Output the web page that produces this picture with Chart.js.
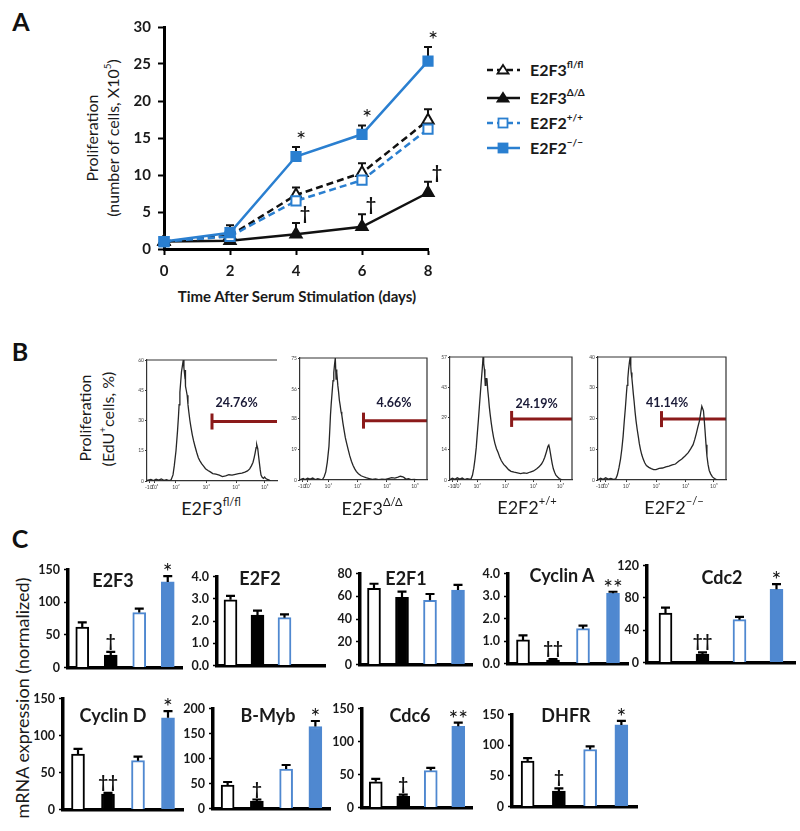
<!DOCTYPE html>
<html>
<head>
<meta charset="utf-8">
<title>E2F3 / E2F2 proliferation figure</title>
<script src="https://cdn.jsdelivr.net/npm/chart.js@4.4.1/dist/chart.umd.min.js"></script>
<style>
  body { margin: 0; width: 800px; height: 831px; position: relative; background: #fff;
         font-family: Lato, "Open Sans", sans-serif; color: #1a1a1a; overflow: hidden; }
  canvas { position: absolute; }
  .t { position: absolute; white-space: nowrap; transform: translate(-50%, -50%); line-height: 1; }
  .v { transform: translate(-50%, -50%) rotate(-90deg); }
  .panel { font-size: 25px; font-weight: bold; color: #111; }
  sup { font-size: 0.62em; line-height: 0; position: relative; top: -0.2em; vertical-align: super; }
  .leg { position: absolute; left: 486px; display: flex; align-items: center; transform: translateY(-50%);
         font-weight: bold; font-size: 16px; }
  .leg svg { margin-right: 9px; }
  .ctitle { font-size: 18px; font-weight: bold; }
  .hlab { font-size: 18px; }
</style>
</head>
<body>
<div class="t panel" style="left:21px;top:21px">A</div>
<div class="t panel" style="left:20px;top:351px">B</div>
<div class="t panel" style="left:20px;top:538px">C</div>

<div class="t v" style="left:92px;top:138px;font-size:16px">Proliferation</div>
<div class="t v" style="left:113px;top:138px;font-size:16px">(number of cells, X10<sup>5</sup>)</div>
<div class="t" style="left:297px;top:296px;font-size:15px;font-weight:bold">Time After Serum Stimulation (days)</div>

<div class="t v" style="left:85px;top:418px;font-size:16px">Proliferation</div>
<div class="t v" style="left:108px;top:419px;font-size:16px">(EdU<sup>+</sup>cells, %)</div>

<div class="t v" style="left:22px;top:698px;font-size:18px">mRNA expression (normalized)</div>

<script>
// ---- panel A: cell counts (x10^5) after serum stimulation ----
const days = [0, 2, 4, 6, 8];
const flflCells = [1.0, 1.8, 7.3, 10.3, 17.4];
const flflCellsErr = [0.2, 1.0, 1.0, 1.3, 1.5];
const ddCells = [1.0, 1.1, 2.0, 3.0, 7.6];
const ddCellsErr = [0.1, 0.3, 1.5, 1.7, 1.5];
const wtCells = [1.0, 1.7, 6.5, 9.3, 16.2];
const wtCellsErr = [0.1, 0.6, 0.6, 0.8, 0.9];
const koCells = [1.0, 2.2, 12.5, 15.5, 25.4];
const koCellsErr = [0.2, 1.0, 1.3, 1.2, 1.9];
const ddCellsMarks = ['', '', '†', '†', '†'];
const koCellsMarks = ['', '', '*', '*', '*'];

const genotypes = ['E2F3', 'E2F3', 'E2F2', 'E2F2'];
const alleles = ['fl/fl', 'Δ/Δ', '+/+', '−/−'];

// ---- panel B: EdU histograms, x = % of axis width, y = cell count ----
const histFlfl = [[0,0.3],[3,0.8],[5,0.2],[7,0.9],[9,0.4],[11,1.0],[13,0.3],[15,0.6],[17,0.2],[18.5,0.5],[20,3],[21,7.6],[22.3,15],[23.5,25],[24.2,32],[24.7,37.8],[25.3,44],[25.9,49],[26.5,54],[27.2,57],[27.9,60],[28.4,56],[28.9,53],[29.3,55],[29.6,47],[30.2,45],[30.9,42.5],[31.5,38],[32.1,34.6],[33,30],[33.8,26.7],[34.8,23],[35.8,20],[37,17],[38.3,14],[39.5,11.5],[40.7,10],[42,8.6],[43.2,7.6],[45,6.1],[46.9,5.2],[48.7,4.5],[50.6,3.7],[53,3.4],[55.6,2.9],[58,2.2],[60.5,2.5],[63,3.1],[65.4,2.9],[68,3.3],[70.4,3.7],[73,3.9],[75.3,4.4],[77.3,5.0],[79,6.0],[80.3,7.5],[81.5,9.2],[82.4,11.5],[83.2,14],[83.9,16.5],[84.4,18],[85.2,16],[85.8,12.5],[86.4,9.2],[87.1,5.5],[87.7,2.9],[88.6,1.8],[89.6,1.3],[90.5,2.0],[91.4,1.2],[92.6,0.8],[94,0.4],[95,0.1]];
const histDd = [[0,0.2],[2.5,0.9],[4,0.3],[6,1.1],[8,0.5],[10,1.2],[12,0.3],[14,0.8],[16.5,0.2],[17.7,0.3],[19,2],[20.3,5],[21.5,11],[22.8,20.7],[23.4,30],[24,40],[24.6,47],[25.3,54],[26,61],[26.6,66],[27.2,71],[27.8,75],[28.4,62],[28.8,68],[29.1,66],[29.8,58],[30.4,54],[31,49],[31.6,46],[32.3,42],[32.9,40],[33.8,35],[34.7,30.6],[35.7,26],[36.7,22.7],[38,18.5],[39.2,14.8],[40.5,11.5],[41.8,8.9],[43,7],[44.3,5.3],[46,3.9],[48.1,2.6],[50,2.0],[51.9,1.4],[54.5,0.9],[57,0.4],[59.5,0.6],[62,0.2],[64.5,0.5],[67.1,0.4],[69.5,0.9],[72.2,1.4],[74.7,1.2],[77.2,1.8],[79,2.3],[81,2.0],[82.3,1.3],[83.5,0.5],[85.5,0.8],[87.3,0.2],[90,0.3],[92.4,0]];
const histWt = [[0,0.2],[2,0.8],[4,0.3],[6,1.0],[8,0.4],[10,0.9],[12,0.2],[14,0.6],[17.1,0.3],[18.4,2.2],[19.5,5.5],[20.5,9.7],[21.5,15],[22.4,21.6],[23.3,28],[24.2,35],[25,41],[25.8,46.9],[26.5,52],[27.1,57],[27.6,54],[28.2,51.3],[28.6,47],[28.9,43.9],[29.4,47],[30.3,46.9],[30.9,42],[31.6,38],[32.2,34],[32.9,30.5],[33.8,26.5],[34.7,23],[35.7,19.8],[36.8,17],[38.1,14.5],[39.5,12.6],[40.8,10.5],[42.1,8.9],[44,7.2],[46.1,6],[48,4.8],[50,4],[52.6,3.6],[55.3,3.3],[57.9,3.0],[60.5,3.3],[63,3.1],[65.8,3.7],[68.5,4.2],[71.1,5.2],[73,6.1],[75,7.4],[76.4,8.8],[77.6,10.4],[79,13],[80.3,15.6],[81,16.2],[81.6,14.8],[82.3,12.5],[82.9,10.4],[83.8,7.5],[84.7,5.2],[85.8,3.5],[86.8,2.2],[88.2,1.4],[89.5,0.7],[92.1,0]];
const histKo = [[0,0.1],[2,0.6],[4,0.2],[6,0.7],[8,0.3],[10,0.5],[12,0.2],[13.9,0.4],[15.1,1.6],[16.4,4],[17.6,6.8],[18.6,10],[19.6,14.1],[20.5,19],[21.4,23.5],[22.1,27.5],[22.7,30.8],[23.3,33],[23.9,36],[24.6,38.5],[25.2,40],[25.6,37],[25.9,35],[26.5,33],[27,30.8],[27.6,28],[28.2,25.6],[29,22],[29.7,19.3],[30.6,16.5],[31.5,14.1],[32.3,11.8],[33.2,9.9],[34.2,8.2],[35.3,6.8],[36.5,5.6],[37.8,4.7],[39.7,4.1],[41.6,3.7],[43.5,3.4],[45.3,3.4],[47.8,3.8],[50.4,3.9],[53,4.3],[55.4,4.5],[58,4.9],[60.5,5.2],[63,6.1],[65.5,6.8],[68,7.8],[70.5,8.9],[72.5,10.2],[74.3,11.5],[75.6,13.2],[76.8,15.1],[78,17.2],[79.3,19.3],[80.3,22],[81.1,24],[81.8,23.2],[82.4,22.5],[83,19.5],[83.6,16.2],[84.4,11.5],[85.1,7.8],[86,5],[86.9,3.1],[88,2.0],[89.4,1],[91,0.5],[93.2,0]];
const histYTicks = [[0, 15, 30, 45, 60], [0, 19, 38, 56, 75], [0, 14, 29, 43, 57], [0, 10, 20, 30, 40]];
const histXTickPos = [2, 6, 22.3, 45.5, 68.5, 90.5];
const histXTickText = ['-10¹', '10¹', '10²', '10³', '10⁴', '10⁵'];
const gatePct = ['24.76%', '4.66%', '24.19%', '41.14%'];
const gateStart = [50, 50, 50.5, 49.6];
const gateLevel = [29.5, 36.5, 28.3, 19.8];
const gateTextX = [69, 74, 71, 54];
const gateTextY = [38.6, 47.3, 35.3, 25];

// ---- panel C: mRNA expression (normalized) ----
const genes = ['E2F3', 'E2F2', 'E2F1', 'Cyclin A', 'Cdc2', 'Cyclin D', 'B-Myb', 'Cdc6', 'DHFR'];
const flflExpr = [62, 2.95, 67, 1.05, 61, 75, 47, 39, 74];
const flflErr = [7, 0.18, 4, 0.2, 7, 7, 6, 4.5, 5];
const ddExpr = [19, 2.27, 59, 0.15, 10.5, 21, 15, 17, 25];
const ddErr = [5, 0.2, 5, 0.05, 2, 1.5, 3, 2.5, 4.5];
const wtExpr = [84, 2.15, 56.5, 1.55, 53, 66, 79, 56, 93];
const wtErr = [6, 0.15, 5.5, 0.13, 3.5, 5.5, 8, 4, 5];
const koExpr = [131, null, 65.5, 3.12, 90.5, 124, 164, 123, 133];
const koErr = [9, null, 4.5, 0.07, 6.5, 9, 11, 5.5, 6.5];
const ddMarks = ['†', '', '', '††', '††', '††', '†', '†', '†'];
const koMarks = ['*', '', '', '**', '*', '*', '*', '**', '*'];
const yMaxC = [150, 4, 80, 4, 120, 150, 200, 150, 150];
const yStepC = [50, 1, 20, 1, 20, 50, 50, 50, 50];

// layout (page pixels) of each plot area: [left, top, right, bottom]
const areaA = [164, 23, 428, 249];
const histAreas = [[147, 355, 282, 481], [300, 353, 432, 480], [450, 352, 577, 480], [598, 352, 731, 480]];
const histLabelPos = [[211, 508], [372, 508], [527, 507], [674, 507]];
const barAreas = [[68, 568, 182, 675], [217, 575, 325, 673], [360, 572, 472, 672], [508, 572, 628, 671], [647, 564, 795, 670],
                  [63, 697, 183, 817], [213, 707, 330, 816], [362, 707, 472, 815], [512, 713, 637, 814]];
const titlePos = [[113, 580], [260, 578], [406, 578], [562, 575], [722, 577], [113, 715], [268, 715], [410, 715], [566, 715]];

const FONT = 'Lato, "Open Sans", sans-serif';
const blueA = '#2a7fd0';
const blueC = '#4f88d0';

Chart.defaults.font.family = FONT;
Chart.defaults.color = '#1a1a1a';
Chart.defaults.animation = false;
Chart.defaults.responsive = false;
Chart.defaults.devicePixelRatio = 1;
Chart.defaults.plugins.legend.display = false;
Chart.defaults.plugins.tooltip.enabled = false;

function text(html, x, y, cls) {
  const d = document.createElement('div');
  d.className = 't ' + (cls || '');
  d.style.left = x + 'px';
  d.style.top = y + 'px';
  d.innerHTML = html;
  document.body.appendChild(d);
  return d;
}

// make a canvas so that the chart area lands on `area`
function place(area, m, config) {
  const [x0, y0, x1, y1] = area;
  const c = document.createElement('canvas');
  c.width = x1 - x0 + m.l + m.r;
  c.height = y1 - y0 + m.t + m.b;
  c.style.left = (x0 - m.l) + 'px';
  c.style.top = (y0 - m.t) + 'px';
  document.body.appendChild(c);
  const o = config.options;
  o.layout = { padding: { left: 0, top: m.t, right: m.r, bottom: 0 } };
  o.scales.x.afterFit = s => { s.height = m.b; };
  o.scales.y.afterFit = s => { s.width = m.l; };
  return new Chart(c, config);
}

// ---------- panel A ----------
const lineSets = [
  { vals: flflCells, err: flflCellsErr, color: '#111', dash: [7, 4], shape: 'triangle', fill: '#fff', marks: null, order: 3 },
  { vals: ddCells, err: ddCellsErr, color: '#111', dash: [], shape: 'triangle', fill: '#111', marks: ddCellsMarks, order: 2 },
  { vals: wtCells, err: wtCellsErr, color: blueA, dash: [7, 4], shape: 'rect', fill: '#fff', marks: null, order: 1 },
  { vals: koCells, err: koCellsErr, color: blueA, dash: [], shape: 'rect', fill: blueA, marks: koCellsMarks, order: 0 }
];

const errorLines = {
  id: 'errorLines',
  beforeDatasetsDraw(chart) {
    const { ctx, scales: { x, y } } = chart;
    ctx.save();
    ctx.strokeStyle = '#111';
    ctx.lineWidth = 2;
    chart.data.datasets.forEach(ds => {
      ds.data.forEach((p, i) => {
        const px = x.getPixelForValue(p.x);
        const y0 = y.getPixelForValue(p.y);
        const y1 = y.getPixelForValue(p.y + ds.err[i]);
        ctx.beginPath();
        ctx.moveTo(px, y0); ctx.lineTo(px, y1);
        ctx.moveTo(px - 4, y1); ctx.lineTo(px + 4, y1);
        ctx.stroke();
      });
    });
    ctx.restore();
  },
  afterDatasetsDraw(chart) {
    const { ctx, scales: { x, y } } = chart;
    ctx.save();
    ctx.fillStyle = '#111';
    ctx.textAlign = 'center';
    chart.data.datasets.forEach(ds => {
      if (!ds.marks) return;
      ds.data.forEach((p, i) => {
        const m = ds.marks[i];
        if (!m) return;
        const px = x.getPixelForValue(p.x);
        const top = y.getPixelForValue(p.y + ds.err[i]);
        if (m === '*') {
          ctx.font = '24px ' + FONT;
          ctx.fillText(m, px + 5, top + 1);
        } else {
          ctx.font = 'bold 18px ' + FONT;
          ctx.fillText(m, px + 9, top - 3);
        }
      });
    });
    ctx.restore();
  }
};

const axisA = (max, step) => ({
  type: 'linear', min: 0, max, ticks: { stepSize: step, font: { size: 15, weight: 'bold' }, color: '#1a1a1a', padding: 7 },
  grid: { drawOnChartArea: false, tickLength: 6, tickColor: '#000', tickWidth: 2 },
  border: { color: '#000', width: 3 }
});

place(areaA, { l: 45, t: 12, r: 20, b: 40 }, {
  type: 'line',
  data: {
    datasets: lineSets.map((s, k) => ({
      label: genotypes[k] + alleles[k],
      data: days.map((d, i) => ({ x: d, y: s.vals[i] })),
      err: s.err, marks: s.marks, order: s.order,
      borderColor: s.color, borderWidth: 2.5, borderDash: s.dash,
      pointStyle: s.shape, pointRadius: 6.5, pointBackgroundColor: s.fill,
      pointBorderColor: s.color, pointBorderWidth: 2, clip: false
    }))
  },
  options: { scales: { x: axisA(8, 2), y: axisA(30, 5) } },
  plugins: [errorLines]
});

// legend for panel A
const legendRows = [69, 97, 122, 147];
lineSets.forEach((s, k) => {
  const row = document.createElement('div');
  row.className = 'leg';
  row.style.top = legendRows[k] + 'px';
  const marker = s.shape === 'triangle'
    ? `<polygon points="17,2.5 22.5,11 11.5,11" fill="${s.fill}" stroke="${s.color}" stroke-width="1.8"/>`
    : `<rect x="12.5" y="3" width="9" height="9" fill="${s.fill}" stroke="${s.color}" stroke-width="1.8"/>`;
  row.innerHTML = `<svg width="35" height="14"><line x1="1" y1="7.5" x2="34" y2="7.5" stroke="${s.color}" stroke-width="2.5"` +
    (s.dash.length ? ' stroke-dasharray="6 4"' : '') + `/>${marker}</svg><span>${genotypes[k]}<sup>${alleles[k]}</sup></span>`;
  document.body.appendChild(row);
});

// ---------- panel B ----------
const histBox = {
  id: 'histBox',
  afterDatasetsDraw(chart, args, opts) {
    const { ctx, chartArea: a, scales: { x, y } } = chart;
    ctx.save();
    ctx.strokeStyle = '#333';
    ctx.lineWidth = 1.2;
    ctx.beginPath();
    ctx.moveTo(a.left, a.top); ctx.lineTo(a.right, a.top);
    if (opts.right) ctx.lineTo(a.right, a.bottom);
    ctx.stroke();
    ctx.fillStyle = '#1b1b38';
    ctx.font = 'bold 12.5px ' + FONT;
    ctx.textAlign = 'center';
    ctx.textBaseline = 'middle';
    ctx.fillText(opts.label, x.getPixelForValue(opts.tx), y.getPixelForValue(opts.ty));
    ctx.restore();
  }
};

const hists = [histFlfl, histDd, histWt, histKo];
hists.forEach((h, k) => {
  const yt = histYTicks[k];
  place(histAreas[k], { l: 14, t: 6, r: 6, b: 12 }, {
    type: 'line',
    data: {
      datasets: [
        { data: h.map(([x, y]) => ({ x, y })), borderColor: '#262626', borderWidth: 1.3, pointRadius: 0 },
        { data: [{ x: gateStart[k], y: gateLevel[k] }, { x: 100, y: gateLevel[k] }], borderColor: '#8b1a1a',
          borderWidth: 3, pointStyle: 'line', pointRotation: 90, pointRadius: [8, 0], pointBorderWidth: 3,
          pointBorderColor: '#8b1a1a', clip: false }
      ]
    },
    options: {
      plugins: { histBox: { right: k > 0, label: gatePct[k], tx: gateTextX[k], ty: gateTextY[k] } },
      scales: {
        x: {
          type: 'linear', min: 0, max: 100,
          afterBuildTicks: s => { s.ticks = histXTickPos.map(v => ({ value: v })); },
          ticks: { autoSkip: false, maxRotation: 0, font: { size: 5 }, color: '#444', padding: 1,
                   callback: (v, i) => histXTickText[i] },
          grid: { drawOnChartArea: false, tickLength: 2, tickColor: '#333' },
          border: { color: '#333', width: 1.2 }
        },
        y: {
          type: 'linear', min: 0, max: yt[yt.length - 1],
          afterBuildTicks: s => { s.ticks = yt.map(v => ({ value: v })); },
          ticks: { autoSkip: false, font: { size: 5 }, color: '#444', padding: 1 },
          grid: { drawOnChartArea: false, tickLength: 2, tickColor: '#333' },
          border: { color: '#333', width: 1.2 }
        }
      }
    },
    plugins: [histBox]
  });
  text(genotypes[k] + '<sup>' + alleles[k] + '</sup>', histLabelPos[k][0], histLabelPos[k][1], 'hlab');
});

// ---------- panel C ----------
const barFill = ['#fff', '#000', '#fff', blueC];
const barEdge = ['#000', '#000', blueC, blueC];

const barErrors = {
  id: 'barErrors',
  afterDatasetsDraw(chart) {
    const { ctx, scales: { y } } = chart;
    const ds = chart.data.datasets[0];
    const bars = chart.getDatasetMeta(0).data;
    ctx.save();
    ctx.strokeStyle = '#000';
    ctx.fillStyle = '#111';
    ctx.lineWidth = 2.2;
    ctx.textAlign = 'center';
    ds.data.forEach((v, i) => {
      if (v == null) return;
      const px = bars[i].x;
      const y0 = y.getPixelForValue(v);
      const y1 = y.getPixelForValue(v + ds.err[i]);
      ctx.beginPath();
      ctx.moveTo(px, y0); ctx.lineTo(px, y1);
      ctx.moveTo(px - 4.5, y1); ctx.lineTo(px + 4.5, y1);
      ctx.stroke();
      const m = ds.marks[i];
      if (!m) return;
      if (m[0] === '*') {
        ctx.font = '23px ' + FONT;
        ctx.fillText(m, px, y1 + 4);
      } else {
        ctx.font = 'bold 17px ' + FONT;
        ctx.fillText(m, px, y1 - 5);
      }
    });
    ctx.restore();
  }
};

genes.forEach((gene, g) => {
  const dec = yStepC[g] < 5 ? 1 : 0;
  place(barAreas[g], { l: 42, t: 10, r: 6, b: 4 }, {
    type: 'bar',
    data: {
      labels: genotypes.map((n, k) => n + alleles[k]),
      datasets: [{
        data: [flflExpr[g], ddExpr[g], wtExpr[g], koExpr[g]],
        err: [flflErr[g], ddErr[g], wtErr[g], koErr[g]],
        marks: ['', ddMarks[g], '', koMarks[g]],
        backgroundColor: barFill, borderColor: barEdge, borderWidth: 2, barThickness: 13
      }]
    },
    options: {
      scales: {
        x: { ticks: { display: false }, grid: { display: false }, border: { color: '#000', width: 3.5 } },
        y: {
          min: 0, max: yMaxC[g],
          ticks: { stepSize: yStepC[g], font: { size: 12.5, weight: 'bold' }, color: '#1a1a1a', padding: 4,
                   callback: v => v.toFixed(dec) },
          grid: { drawOnChartArea: false, tickLength: 4, tickColor: '#000', tickWidth: 1.5 },
          border: { color: '#000', width: 3.5 }
        }
      }
    },
    plugins: [barErrors]
  });
  text(gene, titlePos[g][0], titlePos[g][1], 'ctitle');
});
</script>
</body>
</html>
